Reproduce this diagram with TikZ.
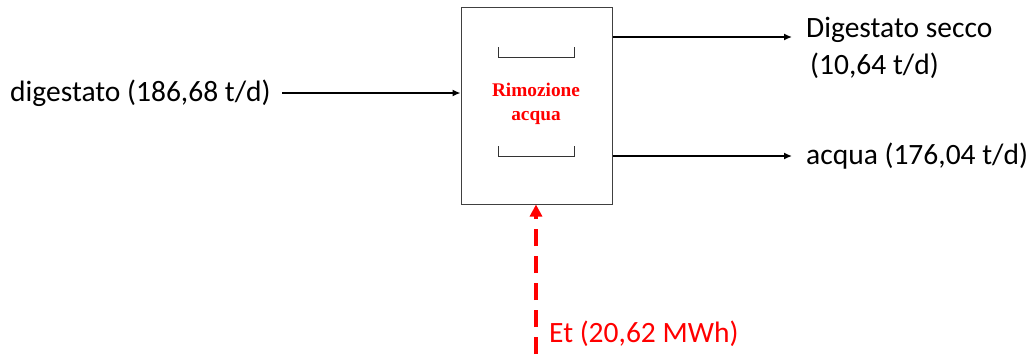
\documentclass[tikz,border=0pt]{standalone}
\usepackage{fontspec}
\setmainfont{Carlito}
\newfontfamily\timesf{Liberation Serif}
\usetikzlibrary{arrows.meta}
\definecolor{redE}{RGB}{255,0,0}
\begin{document}
\begin{tikzpicture}[x=1pt,y=-1pt,
  lbl/.style={inner sep=0pt,anchor=west,font=\fontsize{29.5}{34}\selectfont},
  flow/.style={draw=black,line width=1.4pt,-{Latex[length=8pt,width=7pt]}},
  brk/.style={draw=black!80,line width=1pt}]
\useasboundingbox (0,0) rectangle (1030,354);
\node[draw=black!75,line width=1pt,minimum width=151pt,minimum height=197pt,inner sep=0pt] (box) at (536.5,105.5) {};
\node[text=redE,font=\timesf\bfseries\fontsize{19.3}{24}\selectfont,align=center] (t) at (536,104) {Rimozione\\acqua};
\draw[brk] (498,47) -- (498,57) -- (574,57) -- (574,47);
\draw[brk] (498,146) -- (498,156) -- (574,156) -- (574,146);
\node[lbl] (in) at (10,93) {digestato (186,68 t/d)};
\coordinate (inB) at (box.west |- 0,93);
\draw[flow] (282,93) coordinate (inA) -- (inB);
\node[lbl] (o1) at (806,30) {Digestato secco};
\node[lbl] (o1b) at (810,66) {(10,64 t/d)};
\node[lbl] (o2) at (806,156) {acqua (176,04 t/d)};
\draw[flow] (box.east |- 0,37) -- (792,37);
\draw[flow] (box.east |- 0,156) -- (792,156);
\coordinate (eA) at (536,354);
\draw[draw=redE,line width=3.5pt,dash pattern=on 17pt off 10pt,-{Triangle[length=12pt,width=12pt]}] (eA) -- (box.south -| 536,0);
\node[lbl,text=redE] (et) at (549,334) {Et (20,62 MWh)};
\end{tikzpicture}
\end{document}
